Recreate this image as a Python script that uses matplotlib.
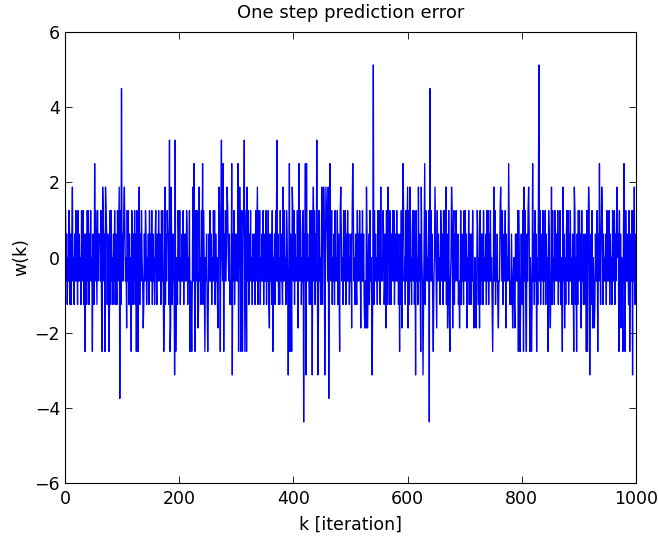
import matplotlib
matplotlib.use("Agg")
import matplotlib.pyplot as plt

plt.rcParams['font.family'] = ['DejaVu Sans']

title = "One step prediction error"
xlabel = "k [iteration]"
ylabel = "w(k)"
xticks = [0, 200, 400, 600, 800, 1000]
yticks = [-6, -4, -2, 0, 2, 4, 6]

# quantization step of the error signal
step = 0.625

# baseline levels (in steps), read approximately: A=-1, B=-2, digits positive
baseline_rows = [
    "2A1B0A21B1 B12A0B1A2A 1B2A1A0B21 A2B10A1B2A 2B1A2A0B1A",
    "B1A20B2A11 1A2B0B2A1A A21B1A0B2B 2A0B1A2B1A B2A1A02B1A",
    "1A2B1A0B2A 2B1A0A21B1 A2B1A2B01A B1A20A2B1A 21B0A1B2A1",
    "A2B1A0B12A B1A2A10B2A 2A1B0B1A21 1B2A2A0B1A A1B2A0B21A",
    "2B0A1A2B1A 1A21B0A2BA B2A1A0B12A 2A1B1A0B2A 1B2A20A1B1",
    "B1A2A1B0A2 A2B1A0B21A 1B2A0A2B1A 2A1B20A1BA B2A1A2B01A",
    "1A2B0A1B2A B21A0A2B1A 2B1A2A0B1A A1B2A10B2A 2B0A1A2B1A",
    "A2B1A2B01A 1B2A0A1B2A 2A1B0B2A1A B1A2A0B21A 1A2B1A0B2A",
    "2B1A0A2B1A A21B0A2B1A 1B2A1A0B2A B2A10A2B1A 2A1B2A0B1A",
    "B1A2A0B21A 2A1B1A2B0A 1B2A0A2B1A A2B1A0B21A 2B1A2A1B0A",
    "1A2B2A0B1A B2A1A20B1A 2A1B0A2B1A A1B2A0B2A1 B2A1A0B21A",
    "2B1A0A21BA 1A2B1A0B2A B1A2A2B01A 2A1B0A1B2A 1B2A0B2A1A",
    "A2B1A0B12A 2B1A2A0B1A 1A2B0A2B1A B21A0A2B1A 2A1B2A0B1A",
    "B2A1A0B21A 1B2A2A0B1A A2B1A0B2A1 2B1A20A1BA 1A2B1A0B2A",
    "2A1B0A2B1A B1A2A1B0A2 A21B0A2B1A 1B2A0A1B2A 2B1A2A0B1A",
    "1A2B0A1B2A A2B1A2B01A 2B1A0A21BA B1A2A0B21A 1A2B2A0B1A",
    "B2A1A2B01A 2A1B0A2B1A 1B2A1A0B2A A2B10A2B1A 2B1A0A21BA",
    "A1B2A0B21A 1A2B1A2B0A B2A1A0B12A 2B1A2A0B1A 1A2B0A1B2A",
    "2A1B2A0B1A B1A2A0B21A 1B2A0A2B1A A2B1A20B1A 2B1A0A1B2A",
    "1A2B1A0B2A A2B1A2B01A 2B1A0A21BA B2A1A0B21A 1A2B2A0B1A",
]

# larger excursions (k -> value in steps)
peaks_pos = {13: 3, 52: 4, 66: 3, 71: 3, 95: 3, 99: 7.2, 104: 3, 130: 3, 175: 3,
             183: 5, 186: 3, 193: 5, 224: 3, 226: 4, 235: 3, 241: 4, 270: 3, 274: 5,
             277: 4, 284: 3, 292: 4, 303: 4, 306: 3, 314: 5, 319: 3, 337: 3, 371: 5,
             382: 3, 393: 4, 398: 3, 410: 4, 421: 4, 423: 4, 435: 3, 441: 5, 450: 3,
             453: 3, 457: 3, 461: 3, 464: 4, 483: 3, 504: 4, 528: 3, 540: 8.2, 553: 3,
             566: 3, 592: 4, 600: 3, 604: 3, 619: 3, 624: 3, 630: 4, 639: 7.2, 648: 3,
             667: 3, 677: 3, 751: 3, 763: 3, 777: 4, 804: 3, 812: 3, 819: 4, 830: 8.2,
             852: 3, 872: 3, 892: 3, 917: 3, 936: 4, 940: 3, 967: 3, 979: 4, 997: 3}
peaks_neg = {35: -4, 48: -4, 65: -4, 70: -4, 77: -4, 96: -6, 108: -3, 116: -4, 125: -4,
             128: -4, 137: -3, 173: -4, 184: -4, 185: -3, 192: -5, 194: -4, 219: -4,
             222: -4, 228: -4, 233: -3, 245: -4, 250: -4, 268: -3, 272: -4, 278: -4,
             293: -5, 304: -4, 308: -4, 311: -4, 315: -4, 318: -4, 358: -3, 364: -4,
             391: -5, 394: -4, 397: -4, 408: -3, 418: -7, 422: -5, 433: -5, 443: -5,
             455: -5, 462: -6, 481: -4, 502: -3, 518: -3, 525: -3, 527: -3, 530: -3,
             538: -5, 562: -3, 586: -4, 590: -3, 601: -3, 614: -5, 623: -4, 627: -5,
             638: -7, 645: -4, 651: -3, 670: -3, 674: -4, 679: -3, 691: -3, 704: -3,
             716: -3, 720: -3, 726: -3, 749: -4, 759: -3, 772: -3, 784: -3, 788: -3,
             794: -4, 797: -4, 803: -4, 808: -4, 814: -4, 817: -4, 826: -4, 846: -4,
             850: -3, 871: -4, 875: -3, 891: -4, 896: -4, 904: -3, 913: -4, 915: -4,
             919: -5, 924: -3, 927: -3, 933: -4, 970: -4, 974: -3, 977: -4, 981: -4,
             989: -4, 994: -5}

code = "".join(baseline_rows).replace(" ", "")
char_level = {'A': -1, 'B': -2, '0': 0, '1': 1, '2': 2}
levels = [char_level[c] for c in code]
k = list(range(1, len(levels) + 1))
for kk, lv in list(peaks_pos.items()) + list(peaks_neg.items()):
    if kk <= len(levels):
        levels[kk - 1] = lv
w = [step * lv for lv in levels]

fig = plt.figure(figsize=(6.59, 5.40), dpi=100)
ax = fig.add_axes([0.0986, 0.1056, 0.8665, 0.835])
ax.plot(k, w, color='#0000ff', linewidth=0.95)
ax.set_xlim(0, 1000)
ax.set_ylim(-6, 6)
ax.set_xticks(xticks)
ax.set_yticks(yticks)
ax.set_yticklabels([str(t).replace('-', '\u2212') for t in yticks])
ax.tick_params(direction='in', top=True, right=True, length=5, width=0.6,
               labelsize=12.5)
ax.tick_params(axis='x', pad=5)
ax.tick_params(axis='y', pad=3.5)
for s in ax.spines.values():
    s.set_linewidth(0.8)
ax.set_title(title, fontsize=13, pad=10)
ax.set_xlabel(xlabel, fontsize=12.5, labelpad=5.5)
ax.set_ylabel(ylabel, fontsize=12.5, labelpad=3)
fig.savefig("out.png", dpi=100)
